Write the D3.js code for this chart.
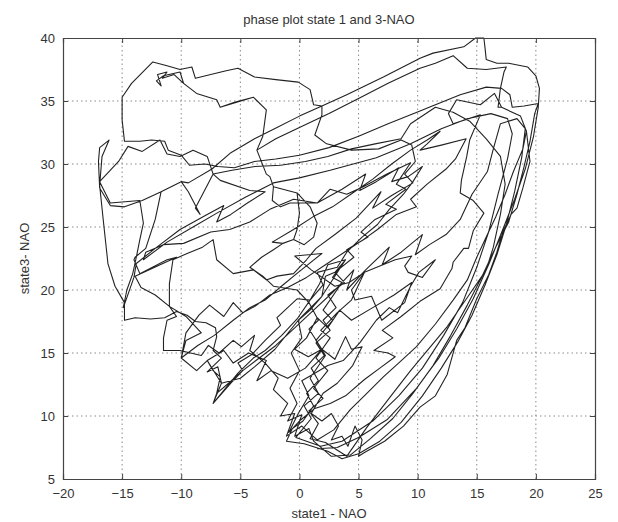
<!DOCTYPE html>
<html>
<head>
<meta charset="utf-8">
<script src="https://cdn.jsdelivr.net/npm/d3@7"></script>
<style>
  html, body { margin: 0; padding: 0; background: #fff; }
  svg { display: block; }
  text { font-family: "Liberation Sans", Arial, sans-serif; fill: #333; }
</style>
</head>
<body>
<svg id="chart" width="618" height="522"></svg>
<script>
// ---- data (state1-NAO, state3-NAO) ----
const titleText = "phase plot state 1 and 3-NAO";
const xLabelText = "state1 - NAO";
const yLabelText = "state3- NAO";
const xTicks = [-20, -15, -10, -5, 0, 5, 10, 15, 20, 25];
const yTicks = [5, 10, 15, 20, 25, 30, 35, 40];

const loop1 = [
[1.5,7.4],[3.2,7.5],[5.0,8.3],[7.4,9.7],[9.9,12.2],[11.8,14.6],[13.3,16.9],[14.7,19.3],[16.0,22.0],[17.2,24.8],[18.2,27.2],[19.1,29.6],[19.8,32.2],[20.2,34.5],[20.3,36.0],[20.0,37.0],[19.3,37.7],[17.7,38.0],[16.7,38.0],[15.8,38.3],[15.7,39.2],[15.6,40.0],[14.9,40.0],[13.9,39.3],[11.3,38.8],[10.2,38.4],[7.1,36.9],[4.0,35.5],[1.9,34.6],[0.0,33.8],[-1.9,32.9],[-3.8,32.0],[-5.8,30.9],[-7.4,29.6],[-9.4,28.5],[-10.0,28.6],[-11.7,27.8],[-13.3,27.1],[-14.8,26.6],[-16.0,26.7],[-16.9,28.1],[-17.0,30.2],[-16.9,31.3],[-16.1,31.9],[-16.7,30.6],[-16.9,28.3],[-16.6,25.6],[-16.3,23.0],[-16.2,22.1],[-15.6,20.3],[-14.8,19.0],[-14.8,17.6],[-13.9,17.8],[-12.6,17.7],[-11.4,17.8],[-10.4,18.3],[-9.5,18.0],[-8.8,17.5],[-7.9,17.4],[-7.1,17.0],[-7.0,16.3],[-7.3,15.2],[-6.6,14.6],[-7.8,13.5],[-6.9,13.9],[-6.6,12.6],[-7.3,11.0],[-5.8,12.6],[-4.8,13.6],[-5.2,14.2],[-4.0,14.9],[-2.9,16.0],[-1.6,17.2],[-1.9,17.8],[-0.2,19.3],[0.9,19.2],[1.7,20.5],[2.4,22.0],[3.9,22.4],[3.0,21.4],[2.2,21.1],[1.9,19.5],[0.9,18.4],[-0.1,17.6],[0.2,16.2],[-0.7,15.0],[0.0,13.6],[-0.8,12.2],[-0.2,11.0],[-1.0,9.6],[0.2,10.1],[-0.4,8.4],[0.8,9.0],[1.2,8.0]
];

const loop2 = [
[1.2,8.0],[2.7,6.8],[4.3,6.9],[6.0,8.2],[7.9,9.8],[9.6,11.8],[11.3,14.0],[12.8,16.4],[14.2,18.8],[15.4,21.0],[16.6,23.4],[17.7,25.4],[18.4,27.6],[19.0,29.8],[19.5,31.8],[19.9,34.0],[20.2,34.8],[19.0,34.6],[18.0,34.5],[17.8,35.5],[17.1,36.0],[15.8,36.1],[13.6,35.5],[11.5,34.7],[10.2,34.2],[7.5,33.2],[5.0,32.2],[2.5,31.3],[0.0,30.7],[-2.0,30.4],[-3.8,30.2],[-5.5,29.7],[-6.9,29.8],[-8.0,30.0],[-9.3,29.9],[-10.0,30.7],[-11.1,31.1],[-11.4,31.8],[-12.5,31.9],[-13.5,31.8],[-14.8,31.8],[-15.0,33.5],[-15.0,35.3],[-14.2,36.4],[-12.4,38.1],[-11.2,37.8],[-10.1,37.5],[-9.1,37.7],[-8.8,36.8],[-7.5,37.1],[-6.2,37.4],[-5.2,37.6],[-3.8,36.9],[-2.0,36.7],[-0.1,36.5],[0.9,35.9],[1.2,34.7],[1.9,34.6],[1.9,33.9],[1.3,32.3],[2.3,31.6],[4.4,31.1],[6.7,31.2],[8.6,31.9],[9.5,31.5],[9.8,30.2],[8.9,29.2],[9.6,28.5],[7.8,27.5],[6.2,26.5],[6.9,27.8],[4.8,25.7],[3.0,24.4],[1.4,23.3],[0.6,22.4],[-0.5,21.3],[-1.9,21.1],[-2.8,20.8],[-3.9,21.6],[-5.6,21.3],[-7.0,22.4],[-7.3,24.0],[-8.2,23.4],[-9.5,22.9],[-10.7,22.4],[-11.0,20.5],[-11.0,18.7],[-10.4,17.9],[-11.2,17.6],[-11.5,16.2],[-11.5,15.2],[-10.1,15.2],[-9.2,15.0],[-8.3,14.8],[-7.7,15.6],[-6.8,15.0],[-5.6,16.0],[-4.9,15.5],[-3.8,16.4],[-4.2,15.2],[-2.9,14.2],[-1.8,13.0],[-2.2,12.1],[-1.0,11.0],[-1.6,10.0],[-0.4,10.2],[-1.1,8.4],[0.2,9.2]
];

const loop3 = [
[0.2,9.2],[1.5,8.1],[2.9,8.9],[4.3,10.5],[5.7,11.8],[7.1,13.1],[8.5,14.3],[9.9,15.5],[11.5,17.3],[13.0,19.2],[14.2,20.8],[15.0,22.6],[15.8,24.2],[16.6,25.8],[17.4,27.6],[18.1,29.4],[18.9,31.2],[19.2,32.6],[18.7,33.8],[17.1,34.5],[16.8,34.5],[17.0,36.0],[17.3,37.3],[17.5,37.7],[15.8,37.5],[14.2,37.6],[13.0,38.6],[11.5,38.0],[10.2,37.6],[7.5,36.4],[5.0,35.2],[2.5,34.0],[0.0,32.9],[-2.0,32.0],[-3.6,31.1],[-3.1,32.2],[-2.8,34.3],[-3.9,35.3],[-5.5,34.9],[-6.7,34.5],[-7.0,35.1],[-8.7,35.6],[-9.8,36.4],[-10.1,37.3],[-11.5,37.0],[-12.1,36.6],[-11.7,36.2],[-12.0,37.1],[-11.2,37.3],[-11.6,36.8],[-10.6,37.1],[-9.8,36.4],[-8.7,35.6],[-7.0,35.1],[-6.7,34.5],[-3.9,35.3],[-2.8,34.3],[-3.1,32.2],[-3.6,31.1],[-2.8,29.2],[-2.5,29.0],[-2.2,28.2],[-0.2,27.7],[0.9,26.6],[1.5,25.3],[1.2,24.2],[0.4,23.6],[-0.5,24.0],[-1.4,23.7],[-2.2,23.2],[-3.2,22.6],[-4.2,21.8],[-3.1,21.1],[-2.2,20.3],[-0.2,20.0],[0.8,19.0],[1.6,17.6],[0.8,16.9],[1.9,15.3],[3.0,14.5],[3.9,16.3],[4.4,15.3],[5.3,15.5],[4.5,14.0],[3.2,12.6],[2.0,11.8],[1.0,10.2],[1.9,9.6],[2.7,10.2],[3.3,9.2],[2.7,8.1],[3.6,8.4],[4.1,7.6],[4.7,9.2],[5.3,8.1],[5.0,6.8],[5.5,7.1]
];

const loop4 = [
[5.5,7.1],[7.2,8.0],[8.8,9.2],[10.2,10.7],[11.5,11.6],[12.5,13.3],[13.3,16.0],[14.0,17.0],[15.0,19.3],[16.0,21.2],[16.7,23.0],[17.2,24.6],[17.9,26.0],[18.4,26.5],[18.9,28.1],[19.5,30.2],[19.2,32.6],[18.7,33.8],[17.1,34.5],[16.5,35.6],[15.3,34.7],[13.3,35.1],[12.6,34.0],[13.0,33.2],[15.3,33.9],[14.4,31.9],[14.15,30.6],[13.7,28.7],[13.6,27.7],[14.7,27.1],[15.6,26.1],[14.7,24.7],[14.3,23.3],[13.9,23.3],[13.0,22.2],[12.9,21.7],[11.9,20.1],[10.2,19.1],[8.6,17.9],[7.0,16.8],[7.9,16.2],[6.3,15.2],[7.5,15.0],[8.1,14.7],[6.8,13.8],[5.5,12.9],[3.9,11.6],[2.6,11.0],[1.3,10.6],[0.0,9.6],[-0.9,8.7],[-0.1,10.2]
];

const loop5 = [
[-0.1,10.2],[0.8,11.6],[0.2,12.8],[1.3,13.4],[2.4,14.0],[3.7,14.4],[5.1,15.8],[6.5,17.6],[7.6,18.6],[8.3,18.2],[9.4,20.3],[10.1,21.4],[11.5,22.4],[10.4,21.0],[9.2,21.4],[8.9,21.9],[9.5,22.7],[8.1,22.4],[6.8,21.9],[5.5,21.4],[4.4,20.0],[4.7,19.2],[6.1,19.5],[6.96,17.6],[8.9,19.0],[9.5,20.6],[8.0,19.6],[6.2,18.6],[4.4,17.6],[3.4,18.4],[2.4,17.0],[1.5,17.8],[0.6,16.2],[-0.4,15.3],[0.75,14.7],[1.9,15.3],[0.5,13.8],[-1.0,13.0],[-2.4,13.6],[-3.6,12.8],[-2.8,14.4],[-4.3,15.0],[-5.6,14.2],[-6.4,15.2],[-7.8,14.4],[-7.3,13.6],[-6.7,13.1],[-7.0,11.8],[-7.3,11.0],[-5.2,13.4],[-3.9,14.6],[-2.9,15.2],[-1.5,16.4],[-0.2,17.7],[0.9,19.2],[2.0,20.4],[1.5,21.4],[3.2,21.8],[4.0,23.0],[5.3,24.2],[6.6,25.2],[7.6,26.4],[8.8,27.6],[9.6,28.6],[10.4,29.8],[9.2,29.0],[7.8,28.6],[8.4,29.7],[6.5,28.6],[5.1,27.9],[5.6,29.2],[3.6,28.0],[1.5,26.9],[-0.8,26.9],[-1.6,26.6],[-2.3,27.1],[-2.2,28.2],[-0.2,27.7],[0.0,26.1],[-0.2,24.8],[-0.5,24.0],[-1.4,23.7],[-2.3,23.8]
];

const loop6 = [
[-2.3,23.8],[-0.5,24.8],[1.3,25.9],[2.8,26.6],[4.5,27.7],[6.2,28.8],[7.8,30.0],[9.4,31.1],[10.8,31.9],[11.9,32.6],[10.8,31.6],[10.2,31.1],[12.0,31.5],[14.1,32.0],[13.2,30.4],[12.4,29.6],[10.8,28.4],[9.4,27.2],[9.9,26.6],[8.2,26.0],[6.6,24.8],[5.4,24.0],[3.8,23.0],[2.2,22.0],[0.6,21.0],[-1.0,20.2],[-2.5,19.6],[-3.76,18.7],[-4.8,18.2],[-5.6,19.0],[-6.4,17.9],[-7.6,18.8],[-8.5,18.0],[-9.6,16.6],[-10.0,14.6],[-8.6,15.6],[-7.2,16.4],[-5.6,17.6],[-4.2,18.6],[-2.9,19.2],[-1.4,20.4],[-0.1,21.4],[1.9,22.9],[-0.4,22.7],[1.0,21.6],[3.0,20.3],[4.2,20.6],[5.5,21.4],[4.4,19.2],[3.2,18.2],[1.8,16.8],[2.6,16.2],[1.4,14.6],[2.4,13.6],[1.2,12.2],[2.0,11.4],[0.8,10.4],[1.6,9.4],[0.9,8.2],[2.2,7.9]
];

const loop7 = [
[2.2,7.9],[4.0,6.8],[5.7,9.1],[7.5,11.3],[9.4,13.6],[11.0,15.4],[12.5,17.1],[14.2,19.4],[15.8,21.6],[16.4,23.4],[17.0,26.0],[17.4,28.4],[17.0,30.6],[15.8,32.0],[14.4,33.4],[13.0,34.1],[11.5,34.5],[9.4,33.2],[8.6,32.0],[6.4,31.6],[4.4,31.2],[2.4,30.6],[0.5,30.2],[-1.6,29.9],[-3.76,29.8],[-5.7,29.5],[-7.3,29.2],[-7.8,30.6],[-9.0,31.1],[-10.1,30.6],[-11.2,30.8],[-11.8,31.9],[-13.3,31.0],[-14.5,31.4],[-15.3,30.2],[-16.9,28.6],[-16.0,26.9],[-13.5,27.1],[-13.2,25.3],[-13.5,24.0],[-13.8,22.6],[-14.1,21.3],[-14.6,20.0],[-14.9,18.6],[-14.6,19.4],[-14.0,21.0],[-13.8,22.1],[-12.2,23.3],[-10.1,24.8],[-8.0,25.9],[-6.4,26.7],[-7.0,25.4],[-5.8,26.0],[-4.4,26.9],[-2.9,27.8],[-4.2,27.9],[-6.7,28.7],[-7.3,29.2],[-8.8,26.5],[-8.4,26.0],[-9.4,27.8],[-10.0,28.6]
];

const loop8 = [
[-10.0,28.6],[-11.7,27.8],[-12.2,25.6],[-13.0,23.3],[-13.9,22.6],[-14.0,22.4],[-13.5,21.3],[-11.2,22.4],[-10.4,22.6],[-13.9,21.1],[-13.4,20.2],[-12.2,19.6],[-11.0,18.7],[-9.6,17.9],[-8.3,16.6],[-9.6,16.0],[-10.0,14.6],[-8.7,13.6],[-7.8,14.4],[-6.6,12.6],[-5.0,13.0],[-3.8,13.9],[-2.07,15.3],[-0.1,17.6],[1.9,19.5],[3.9,22.4],[2.8,21.0],[3.6,20.6],[2.0,18.4],[2.8,17.6],[1.4,16.0],[2.2,14.8],[0.9,13.0],[1.6,11.8],[0.4,10.8],[1.0,9.8],[-0.3,8.3]
];

const loop9 = [
[-0.3,8.3],[1.8,7.6],[3.6,8.0],[6.2,9.6],[8.4,11.6],[10.4,13.8],[12.2,16.4],[13.8,19.0],[15.0,21.8],[16.0,24.6],[16.8,27.6],[17.6,30.4],[18.0,32.4],[17.6,33.6],[16.2,34.0],[14.2,33.6],[12.0,32.8],[9.4,31.6],[6.5,30.5],[2.6,29.5],[0.0,28.9],[-2.2,28.5],[-4.5,27.4],[-6.8,26.2],[-9.0,25.0],[-11.2,23.8],[-13.2,22.4],[-13.0,23.0],[-11.5,23.6],[-9.8,23.7],[-7.5,24.6],[-5.9,24.8],[-4.2,25.4],[-2.5,26.4],[-0.5,27.2],[1.5,26.9],[2.6,28.0],[4.0,27.6],[5.4,28.2],[7.4,29.2],[9.4,30.1],[8.2,28.4],[9.0,28.0],[7.3,26.8],[8.2,26.4],[6.4,25.6],[5.2,24.6],[5.8,24.2],[4.0,23.2],[4.6,22.6],[3.0,21.4],[3.8,20.6],[2.4,19.6],[3.1,18.6],[2.0,17.6],[2.6,16.8],[1.4,15.8],[2.1,14.8],[1.0,13.8],[1.6,12.8],[0.6,11.8],[1.2,10.8],[0.3,9.6]
];

const loop10 = [
[0.3,9.6],[-0.6,9.0],[-1.1,8.0],[0.4,7.8],[2.4,7.2],[3.6,6.6],[5.0,7.0],[6.8,8.0],[8.6,9.5],[10.4,11.6],[12.0,13.8],[13.4,15.9],[14.6,18.0],[15.7,20.4],[16.7,22.8],[17.5,25.2],[18.2,27.8],[18.8,30.5],[19.1,32.8],[18.4,33.6],[17.0,33.2],[16.4,31.2],[15.9,29.4],[14.6,27.6],[13.6,25.6],[12.4,24.4],[11.0,23.6],[9.8,22.8],[10.4,24.4],[8.6,23.0],[7.0,22.0],[7.6,23.4],[5.6,21.6],[4.0,20.0],[4.6,21.6],[2.8,19.8],[1.2,18.4],[-0.4,17.0],[-2.0,15.6],[-3.4,14.6],[-4.8,13.6],[-6.0,12.6],[-7.0,11.8]
];

const trajectory = [].concat(loop1, loop2, loop3, loop4, loop5, loop6, loop7, loop8, loop9, loop10);

// ---- layout ----
const svg = d3.select("#chart");
const margin = { left: 63, right: 23, top: 38, bottom: 43 };
const W = 618, H = 522;
const x = d3.scaleLinear().domain([-20, 25]).range([margin.left, W - margin.right]);
const y = d3.scaleLinear().domain([5, 40]).range([H - margin.bottom, margin.top]);

const x0 = x.range()[0], x1 = x.range()[1], y0 = y.range()[0], y1 = y.range()[1];

// grid (dotted)
const grid = svg.append("g");
grid.selectAll(".gx").data(xTicks.slice(1, -1)).enter().append("line")
  .attr("x1", d => x(d)).attr("x2", d => x(d)).attr("y1", y0).attr("y2", y1)
  .attr("stroke", "#8a8a8a").attr("stroke-width", 1).attr("stroke-dasharray", "1.5,3");
grid.selectAll(".gy").data(yTicks.slice(1, -1)).enter().append("line")
  .attr("y1", d => y(d)).attr("y2", d => y(d)).attr("x1", x0).attr("x2", x1)
  .attr("stroke", "#8a8a8a").attr("stroke-width", 1).attr("stroke-dasharray", "1.5,3");

// trajectory
const line = d3.line().x(d => x(d[0])).y(d => y(d[1]));
svg.append("path").datum(trajectory)
  .attr("d", line).attr("fill", "none")
  .attr("stroke", "#222").attr("stroke-width", 1.1).attr("stroke-linejoin", "round");

// axes (ticks inward, box)
const ax = svg.append("g").attr("transform", `translate(0,${y0})`)
  .call(d3.axisBottom(x).tickValues(xTicks).tickSize(-5).tickPadding(10).tickFormat(d3.format("d")));
const axTop = svg.append("g").attr("transform", `translate(0,${y1})`)
  .call(d3.axisTop(x).tickValues(xTicks).tickSize(-5).tickFormat(""));
const ay = svg.append("g").attr("transform", `translate(${x0},0)`)
  .call(d3.axisLeft(y).tickValues(yTicks).tickSize(-5).tickPadding(8).tickFormat(d3.format("d")));
const ayR = svg.append("g").attr("transform", `translate(${x1},0)`)
  .call(d3.axisRight(y).tickValues(yTicks).tickSize(-5).tickFormat(""));
[ax, axTop, ay, ayR].forEach(g => {
  g.selectAll(".domain").attr("stroke", "#444").attr("stroke-width", 1.2);
  g.selectAll(".tick line").attr("stroke", "#444");
  g.selectAll("text").attr("font-size", 13).attr("fill", "#333")
    .attr("font-family", "'Liberation Sans', Arial, sans-serif");
});

// texts
svg.append("text").attr("x", (x0 + x1) / 2).attr("y", 24).attr("text-anchor", "middle")
  .attr("font-size", 13).text(titleText);
svg.append("text").attr("x", (x0 + x1) / 2).attr("y", 518).attr("text-anchor", "middle")
  .attr("font-size", 13).text(xLabelText);
svg.append("text").attr("transform", `translate(29,${(y0 + y1) / 2}) rotate(-90)`)
  .attr("text-anchor", "middle").attr("font-size", 13).text(yLabelText);
</script>
</body>
</html>
